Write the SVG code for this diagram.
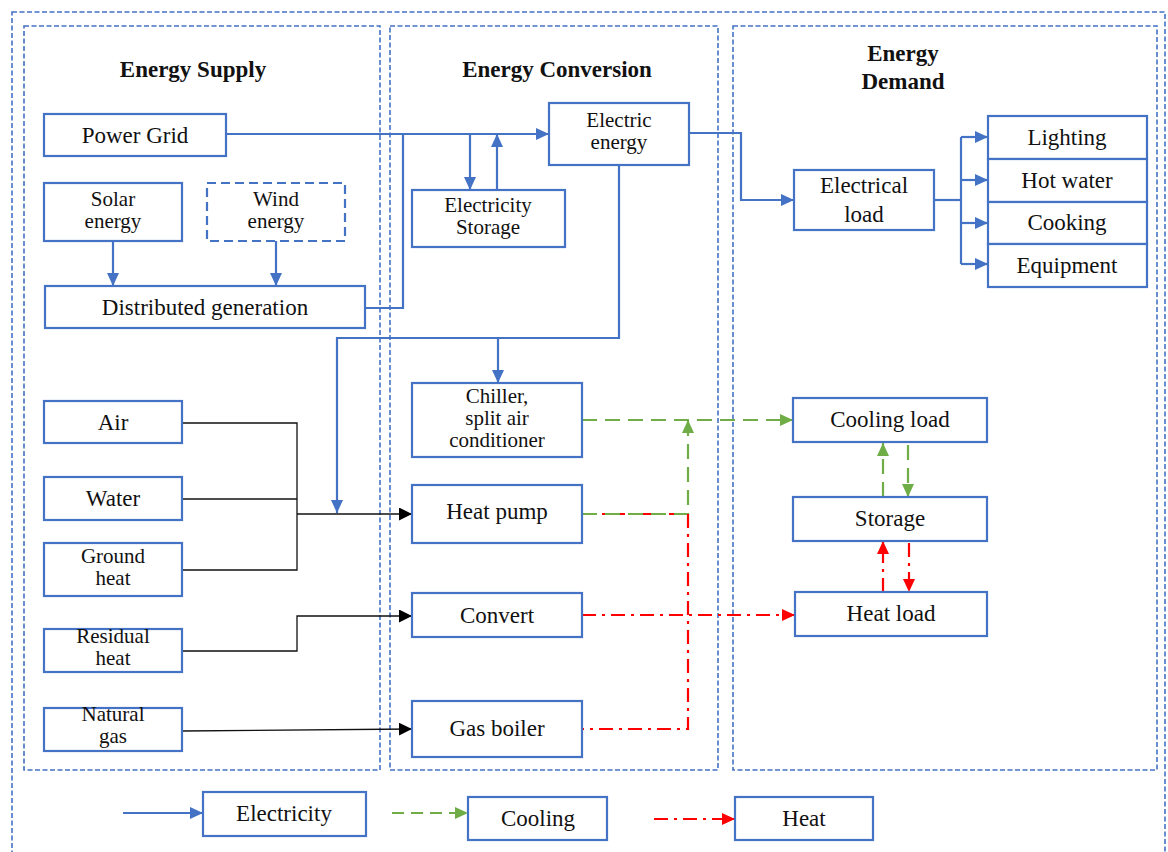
<svg xmlns="http://www.w3.org/2000/svg" width="1168" height="852" viewBox="0 0 1168 852">
<style>
.frame{fill:none;stroke:#4472C4;stroke-width:1.6;stroke-dasharray:5 2.5}
.box{fill:#fff;stroke:#4472C4;stroke-width:2.2}
.dbox{fill:#fff;stroke:#4472C4;stroke-width:2.2;stroke-dasharray:9 5}
.t{font-family:"Liberation Serif","Times New Roman",serif;font-size:23px;fill:#111;text-anchor:middle}
.m{font-family:"Liberation Serif","Times New Roman",serif;font-size:21px;fill:#111;text-anchor:middle}
.h{font-family:"Liberation Serif","Times New Roman",serif;font-size:23px;font-weight:bold;fill:#111;text-anchor:middle}
.e{fill:none;stroke:#4472C4;stroke-width:2.2}
.k{fill:none;stroke:#111;stroke-width:1.3}
.g{fill:none;stroke:#70AD47;stroke-width:2.2;stroke-dasharray:15 8}
.r{fill:none;stroke:#FF0000;stroke-width:2.2;stroke-dasharray:14 6 3 6}
</style>
<defs>
<marker id="ab" markerUnits="userSpaceOnUse" markerWidth="14" markerHeight="12" refX="13" refY="6" orient="auto"><path d="M0,0 L13,6 L0,12 z" fill="#4472C4"/></marker>
<marker id="ag" markerUnits="userSpaceOnUse" markerWidth="14" markerHeight="12" refX="13" refY="6" orient="auto"><path d="M0,0 L13,6 L0,12 z" fill="#70AD47"/></marker>
<marker id="ar" markerUnits="userSpaceOnUse" markerWidth="14" markerHeight="12" refX="13" refY="6" orient="auto"><path d="M0,0 L13,6 L0,12 z" fill="#FF0000"/></marker>
<marker id="ak" markerUnits="userSpaceOnUse" markerWidth="14" markerHeight="13" refX="13" refY="6.5" orient="auto"><path d="M0,0 L13,6.5 L0,13 z" fill="#000"/></marker>
</defs>
<rect width="1168" height="852" fill="#fff"/>
<g id="frames">
<rect class="frame" x="12" y="12" width="1153" height="870"/>
<rect class="frame" x="24" y="26" width="356" height="744"/>
<rect class="frame" x="390" y="26" width="328" height="744"/>
<rect class="frame" x="733" y="26" width="424" height="744"/>
<text class="h" x="193" y="77">Energy Supply</text>
<text class="h" x="557" y="77">Energy Conversion</text>
<text class="h" x="903" y="61">Energy</text>
<text class="h" x="903" y="89">Demand</text>
</g>
<g id="connectors">
<path class="e" d="M226,134 H549" marker-end="url(#ab)"/>
<path class="e" d="M365,308 H403 V134"/>
<path class="e" d="M470,134 V190" marker-end="url(#ab)"/>
<path class="e" d="M497,190 V134" marker-end="url(#ab)"/>
<path class="e" d="M619,165 V338 H337 V513" marker-end="url(#ab)"/>
<path class="e" d="M498,338 V383" marker-end="url(#ab)"/>
<path class="e" d="M689,133 H741 V200 H794" marker-end="url(#ab)"/>
<path class="e" d="M934,200 H961"/>
<path class="e" d="M961,137 V264"/>
<path class="e" d="M961,137 H988" marker-end="url(#ab)"/>
<path class="e" d="M961,180 H988" marker-end="url(#ab)"/>
<path class="e" d="M961,223 H988" marker-end="url(#ab)"/>
<path class="e" d="M961,264 H988" marker-end="url(#ab)"/>
<path class="e" d="M113,241 V286" marker-end="url(#ab)"/>
<path class="e" d="M276,241 V286" marker-end="url(#ab)"/>
<path class="k" d="M182,423 H297 V570 H182"/>
<path class="k" d="M182,499 H297"/>
<path class="k" d="M297,514 H412" stroke-width="2" marker-end="url(#ak)"/>
<path class="k" d="M182,651 H297 V616 H412" marker-end="url(#ak)"/>
<path class="k" d="M182,731 L412,729" marker-end="url(#ak)"/>
<path class="g" d="M582,420 H793" marker-end="url(#ag)"/>
<path class="r" d="M582,514 H688"/>
<path class="g" d="M582,514 H688 V420" marker-end="url(#ag)"/>
<path class="r" d="M688,514 V729 H582"/>
<path class="r" d="M582,615 H795" marker-end="url(#ar)"/>
<path class="g" d="M883,497 V443" marker-end="url(#ag)"/>
<path class="g" d="M908,445 V497" marker-end="url(#ag)"/>
<path class="r" d="M883,592 V541" marker-end="url(#ar)"/>
<path class="r" d="M909,543 V592" marker-end="url(#ar)"/>
</g>
<g id="power-grid"><rect class="box" x="44" y="114" width="182" height="42"/><text class="t" x="135" y="143">Power Grid</text></g>
<g id="solar"><rect class="box" x="44" y="183" width="138" height="58"/><text class="m" x="113" y="206">Solar</text><text class="m" x="113" y="228">energy</text></g>
<g id="wind"><rect class="dbox" x="207" y="183" width="138" height="58"/><text class="m" x="276" y="206">Wind</text><text class="m" x="276" y="228">energy</text></g>
<g id="distributed"><rect class="box" x="45" y="286" width="320" height="42"/><text class="t" x="205" y="315">Distributed generation</text></g>
<g id="air"><rect class="box" x="44" y="401" width="138" height="42"/><text class="t" x="113" y="430">Air</text></g>
<g id="water"><rect class="box" x="44" y="477" width="138" height="43"/><text class="t" x="113" y="506">Water</text></g>
<g id="ground"><rect class="box" x="44" y="543" width="138" height="53"/><text class="m" x="113" y="563">Ground</text><text class="m" x="113" y="585">heat</text></g>
<g id="residual"><rect class="box" x="44" y="629" width="138" height="43"/><text class="m" x="113" y="643">Residual</text><text class="m" x="113" y="665">heat</text></g>
<g id="natural-gas"><rect class="box" x="44" y="708" width="138" height="43"/><text class="m" x="113" y="721">Natural</text><text class="m" x="113" y="743">gas</text></g>
<g id="electric-energy"><rect class="box" x="549" y="103" width="140" height="62"/><text class="m" x="619" y="127">Electric</text><text class="m" x="619" y="149">energy</text></g>
<g id="elec-storage"><rect class="box" x="412" y="190" width="153" height="57"/><text class="m" x="488" y="212">Electricity</text><text class="m" x="488" y="234">Storage</text></g>
<g id="chiller"><rect class="box" x="412" y="383" width="170" height="74"/><text class="m" x="497" y="403">Chiller,</text><text class="m" x="497" y="425">split air</text><text class="m" x="497" y="447">conditioner</text></g>
<g id="heat-pump"><rect class="box" x="412" y="485" width="170" height="58"/><text class="t" x="497" y="519">Heat pump</text></g>
<g id="convert"><rect class="box" x="412" y="593" width="170" height="44"/><text class="t" x="497" y="623">Convert</text></g>
<g id="gas-boiler"><rect class="box" x="412" y="701" width="170" height="56"/><text class="t" x="497" y="736">Gas boiler</text></g>
<g id="electrical-load"><rect class="box" x="794" y="170" width="140" height="60"/><text class="t" x="864" y="193">Electrical</text><text class="t" x="864" y="222">load</text></g>
<g id="lighting"><rect class="box" x="988" y="116" width="159" height="43"/><text class="t" x="1067" y="145">Lighting</text></g>
<g id="hot-water"><rect class="box" x="988" y="159" width="159" height="43"/><text class="t" x="1067" y="188">Hot water</text></g>
<g id="cooking"><rect class="box" x="988" y="202" width="159" height="42"/><text class="t" x="1067" y="230">Cooking</text></g>
<g id="equipment"><rect class="box" x="988" y="244" width="159" height="43"/><text class="t" x="1067" y="273">Equipment</text></g>
<g id="cooling-load"><rect class="box" x="793" y="398" width="194" height="44"/><text class="t" x="890" y="427">Cooling load</text></g>
<g id="storage"><rect class="box" x="793" y="497" width="194" height="44"/><text class="t" x="890" y="526">Storage</text></g>
<g id="heat-load"><rect class="box" x="795" y="592" width="192" height="44"/><text class="t" x="891" y="621">Heat load</text></g>
<g id="legend">
<path class="e" d="M123,813 H203" marker-end="url(#ab)"/>
<rect class="box" x="203" y="792" width="163" height="44"/><text class="t" x="284" y="821">Electricity</text>
<path class="g" d="M392,813 H468" marker-end="url(#ag)" style="stroke-dasharray:12 7"/>
<rect class="box" x="468" y="797" width="139" height="43"/><text class="t" x="538" y="826">Cooling</text>
<path class="r" d="M654,819 H735" marker-end="url(#ar)"/>
<rect class="box" x="735" y="797" width="138" height="43"/><text class="t" x="804" y="826">Heat</text>
</g>
</svg>
